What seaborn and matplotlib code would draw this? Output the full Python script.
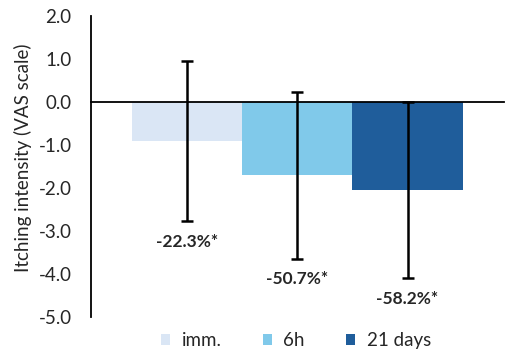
import pandas as pd
import matplotlib.pyplot as plt
import seaborn as sns

# Data
times = ["imm.", "6h", "21 days"]
means = [-0.91, -1.70, -2.05]
errors = [1.86, 1.94, 2.05]
labels = ["-22.3%*", "-50.7%*", "-58.2%*"]
colors = ["#DAE6F5", "#80C9EA", "#1F5D9B"]

df = pd.DataFrame({"group": ["all"] * 3, "time": times, "value": means})

sns.set_style("white")
plt.rcParams["font.family"] = ["Lato", "DejaVu Sans"]

fig = plt.figure(figsize=(5.12, 3.59), dpi=100)
ax = fig.add_axes([0.178, 0.117, 0.806, 0.838])

sns.barplot(data=df, x="group", y="value", hue="time", hue_order=times,
            palette=colors, errorbar=None, width=0.8, ax=ax, legend=True,
            saturation=1, linewidth=0)

# error bars + percent labels
for patch, m, e, lab in zip(ax.patches[:3], means, errors, labels):
    xc = patch.get_x() + patch.get_width() / 2
    ax.errorbar(xc, m, yerr=e, fmt="none", ecolor="black", elinewidth=1.8,
                capsize=4, capthick=1.8)
    ax.annotate(lab, (xc, m - e), xytext=(0, -9), textcoords="offset points",
                ha="center", va="top", fontsize=12.5, fontweight="bold")

ax.set_ylim(-5, 2)
ax.set_xlim(-0.5, 0.5)
ax.set_yticks([2, 1, 0, -1, -2, -3, -4, -5])
ax.set_yticklabels([f"{v:.1f}" for v in [2, 1, 0, -1, -2, -3, -4, -5]], fontsize=13.5)
ax.set_xticks([])
ax.set_xlabel("")
ax.set_ylabel("Itching intensity (VAS scale)", fontsize=13.5)
ax.yaxis.set_label_coords(-0.143, 0.53)
ax.tick_params(axis="y", length=0, pad=14)

for s in ["top", "right"]:
    ax.spines[s].set_visible(False)
ax.spines["bottom"].set_position(("data", 0))
ax.spines["bottom"].set_color("black")
ax.spines["bottom"].set_linewidth(1.3)
ax.spines["left"].set_color("black")
ax.spines["left"].set_linewidth(1.3)
ax.set_zorder(1)

ax.get_legend().remove()
handles, lbls = ax.get_legend_handles_labels()
fig.legend(handles, lbls, loc="lower center", bbox_to_anchor=(0.578, -0.02),
           ncol=3, frameon=False, fontsize=13.5, handlelength=0.5,
           handleheight=0.5, handletextpad=0.6, columnspacing=2.2)

plt.savefig("out.png", dpi=100)
